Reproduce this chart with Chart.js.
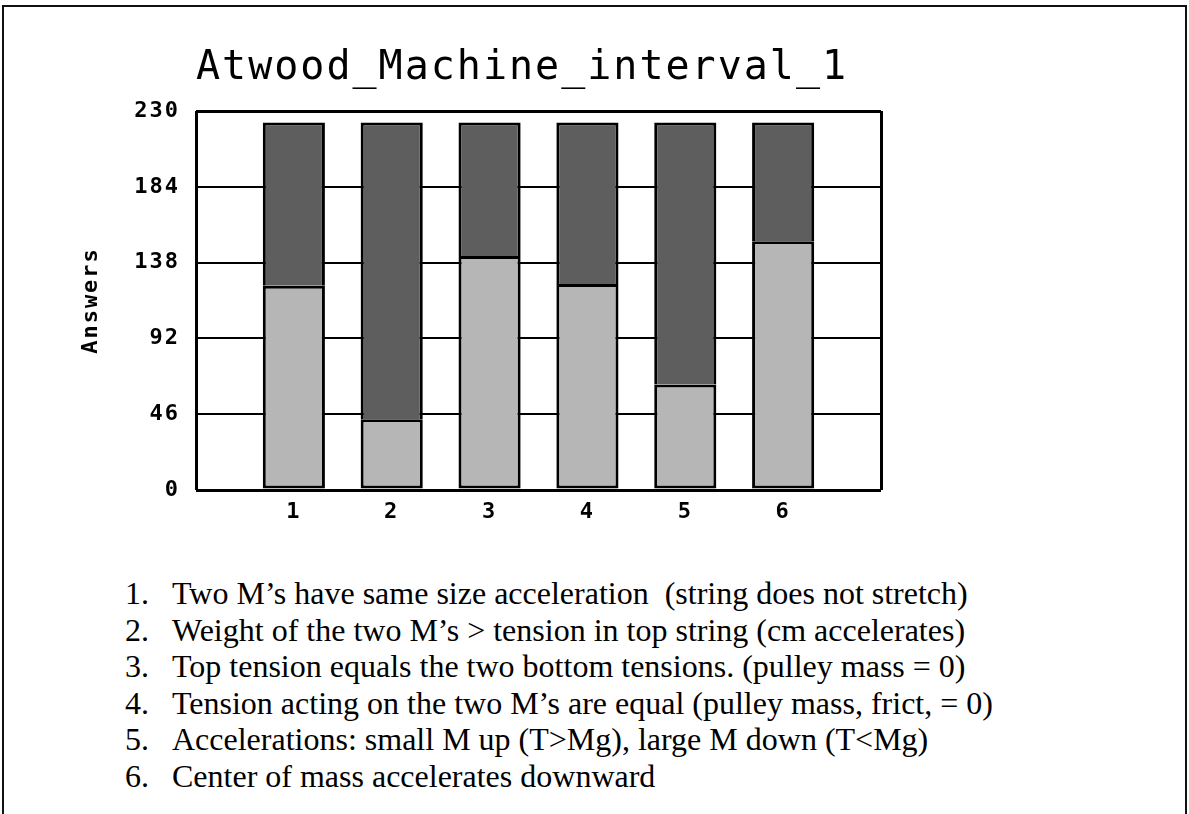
<!DOCTYPE html>
<html>
<head>
<meta charset="utf-8">
<script src="https://cdn.jsdelivr.net/npm/chart.js@4.4.1/dist/chart.umd.min.js"></script>
<style>
  html, body { margin: 0; padding: 0; background: #fff; }
  body { width: 1189px; height: 814px; position: relative; overflow: hidden; }
  .frame { position: absolute; left: 2px; top: 5px; width: 1181px; height: 830px;
           border: 2px solid #111; border-bottom: none; }
  #chartWrap { position: absolute; left: 0; top: 0; width: 1189px; height: 540px; }
  .notes { position: absolute; left: 0; top: 575px; font-family: "Liberation Serif", "Times New Roman", serif;
           font-size: 32px; line-height: 36.6px; color: #000; }
  .notes div { position: relative; height: 36.6px; white-space: pre; }
  .notes .num { position: absolute; left: 125px; }
  .notes .txt { position: absolute; left: 172px; }
</style>
</head>
<body>
<div class="frame"></div>
<div id="chartWrap"><canvas id="chart" width="1189" height="540"></canvas></div>
<div class="notes" id="notes"></div>
<script>
const chartTitle = 'Atwood_Machine_interval_1';
const yTitle = 'Answers';
const categories = ['1', '2', '3', '4', '5', '6'];
const lightValues = [124, 43, 142, 125, 64, 151];
const darkValues = [99, 180, 81, 98, 159, 72];
const yMax = 230;
const yStep = 46;
const notes = [
  'Two M\u2019s have same size acceleration  (string does not stretch)',
  'Weight of the two M\u2019s > tension in top string (cm accelerates)',
  'Top tension equals the two bottom tensions. (pulley mass = 0)',
  'Tension acting on the two M\u2019s are equal (pulley mass, frict, = 0)',
  'Accelerations: small M up (T>Mg), large M down (T<Mg)',
  'Center of mass accelerates downward',
];

const notesEl = document.getElementById('notes');
notes.forEach((t, i) => {
  const row = document.createElement('div');
  row.innerHTML = '<span class="num"></span><span class="txt"></span>';
  row.querySelector('.num').textContent = (i + 1) + '.';
  row.querySelector('.txt').textContent = t;
  notesEl.appendChild(row);
});

const toPoints = vals => vals.map((v, i) => ({ x: i + 1, y: v }));
const xMax = categories.length + 1;

// pixel-font look: wide spaced monospace
const spacingPlugin = {
  id: 'spacing',
  beforeLayout(chart) { chart.ctx.letterSpacing = '2px'; },
  beforeDraw(chart) { chart.ctx.letterSpacing = '2px'; },
};

const tickFont = { family: 'DejaVu Sans Mono', size: 22, weight: 'bold' };

new Chart(document.getElementById('chart'), {
  type: 'bar',
  data: {
    datasets: [
      {
        data: toPoints(lightValues),
        backgroundColor: '#b6b6b6',
        borderColor: '#000',
        borderWidth: 3,
        borderSkipped: false,
        categoryPercentage: 1,
        barPercentage: 0.635,
      },
      {
        data: toPoints(darkValues),
        backgroundColor: '#5e5e5e',
        borderColor: '#000',
        borderWidth: 3,
        borderSkipped: 'bottom',
        categoryPercentage: 1,
        barPercentage: 0.635,
      },
    ],
  },
  options: {
    responsive: false,
    animation: false,
    layout: { padding: { left: 78, right: 308, top: 0, bottom: 0 } },
    plugins: {
      legend: { display: false },
      tooltip: { enabled: false },
      title: {
        display: true,
        text: chartTitle,
        align: 'start',
        fullSize: false,
        color: '#000',
        font: { family: 'DejaVu Sans Mono', size: 40, weight: 'normal' },
        padding: { top: 45, bottom: 18 },
      },
    },
    scales: {
      x: {
        type: 'linear',
        min: 0,
        max: xMax,
        offset: false,
        stacked: true,
        border: { display: false },
        grid: {
          offset: false,
          drawTicks: false,
          color: ctx => {
            const v = ctx.tick ? ctx.tick.value : -1;
            return (v === 0 || v === xMax) ? '#000' : 'rgba(0,0,0,0)';
          },
          lineWidth: 3,
        },
        ticks: {
          stepSize: 1,
          padding: 9,
          color: '#000',
          font: tickFont,
          callback: v => categories[v - 1] || '',
        },
        afterFit: s => { s.height = 50; },
      },
      y: {
        min: 0,
        max: yMax,
        stacked: true,
        border: { display: false },
        grid: {
          drawTicks: false,
          color: '#000',
          lineWidth: ctx => {
            const v = ctx.tick ? ctx.tick.value : -1;
            return (v === 0 || v === yMax) ? 3 : 2;
          },
        },
        ticks: {
          stepSize: yStep,
          padding: 16,
          color: '#000',
          font: tickFont,
        },
        title: {
          display: true,
          text: yTitle,
          color: '#000',
          font: { family: 'DejaVu Sans Mono', size: 22, weight: 'bold' },
          padding: 0,
        },
        afterFit: s => { s.width = 118; },
      },
    },
  },
  plugins: [spacingPlugin],
});
</script>
</body>
</html>
